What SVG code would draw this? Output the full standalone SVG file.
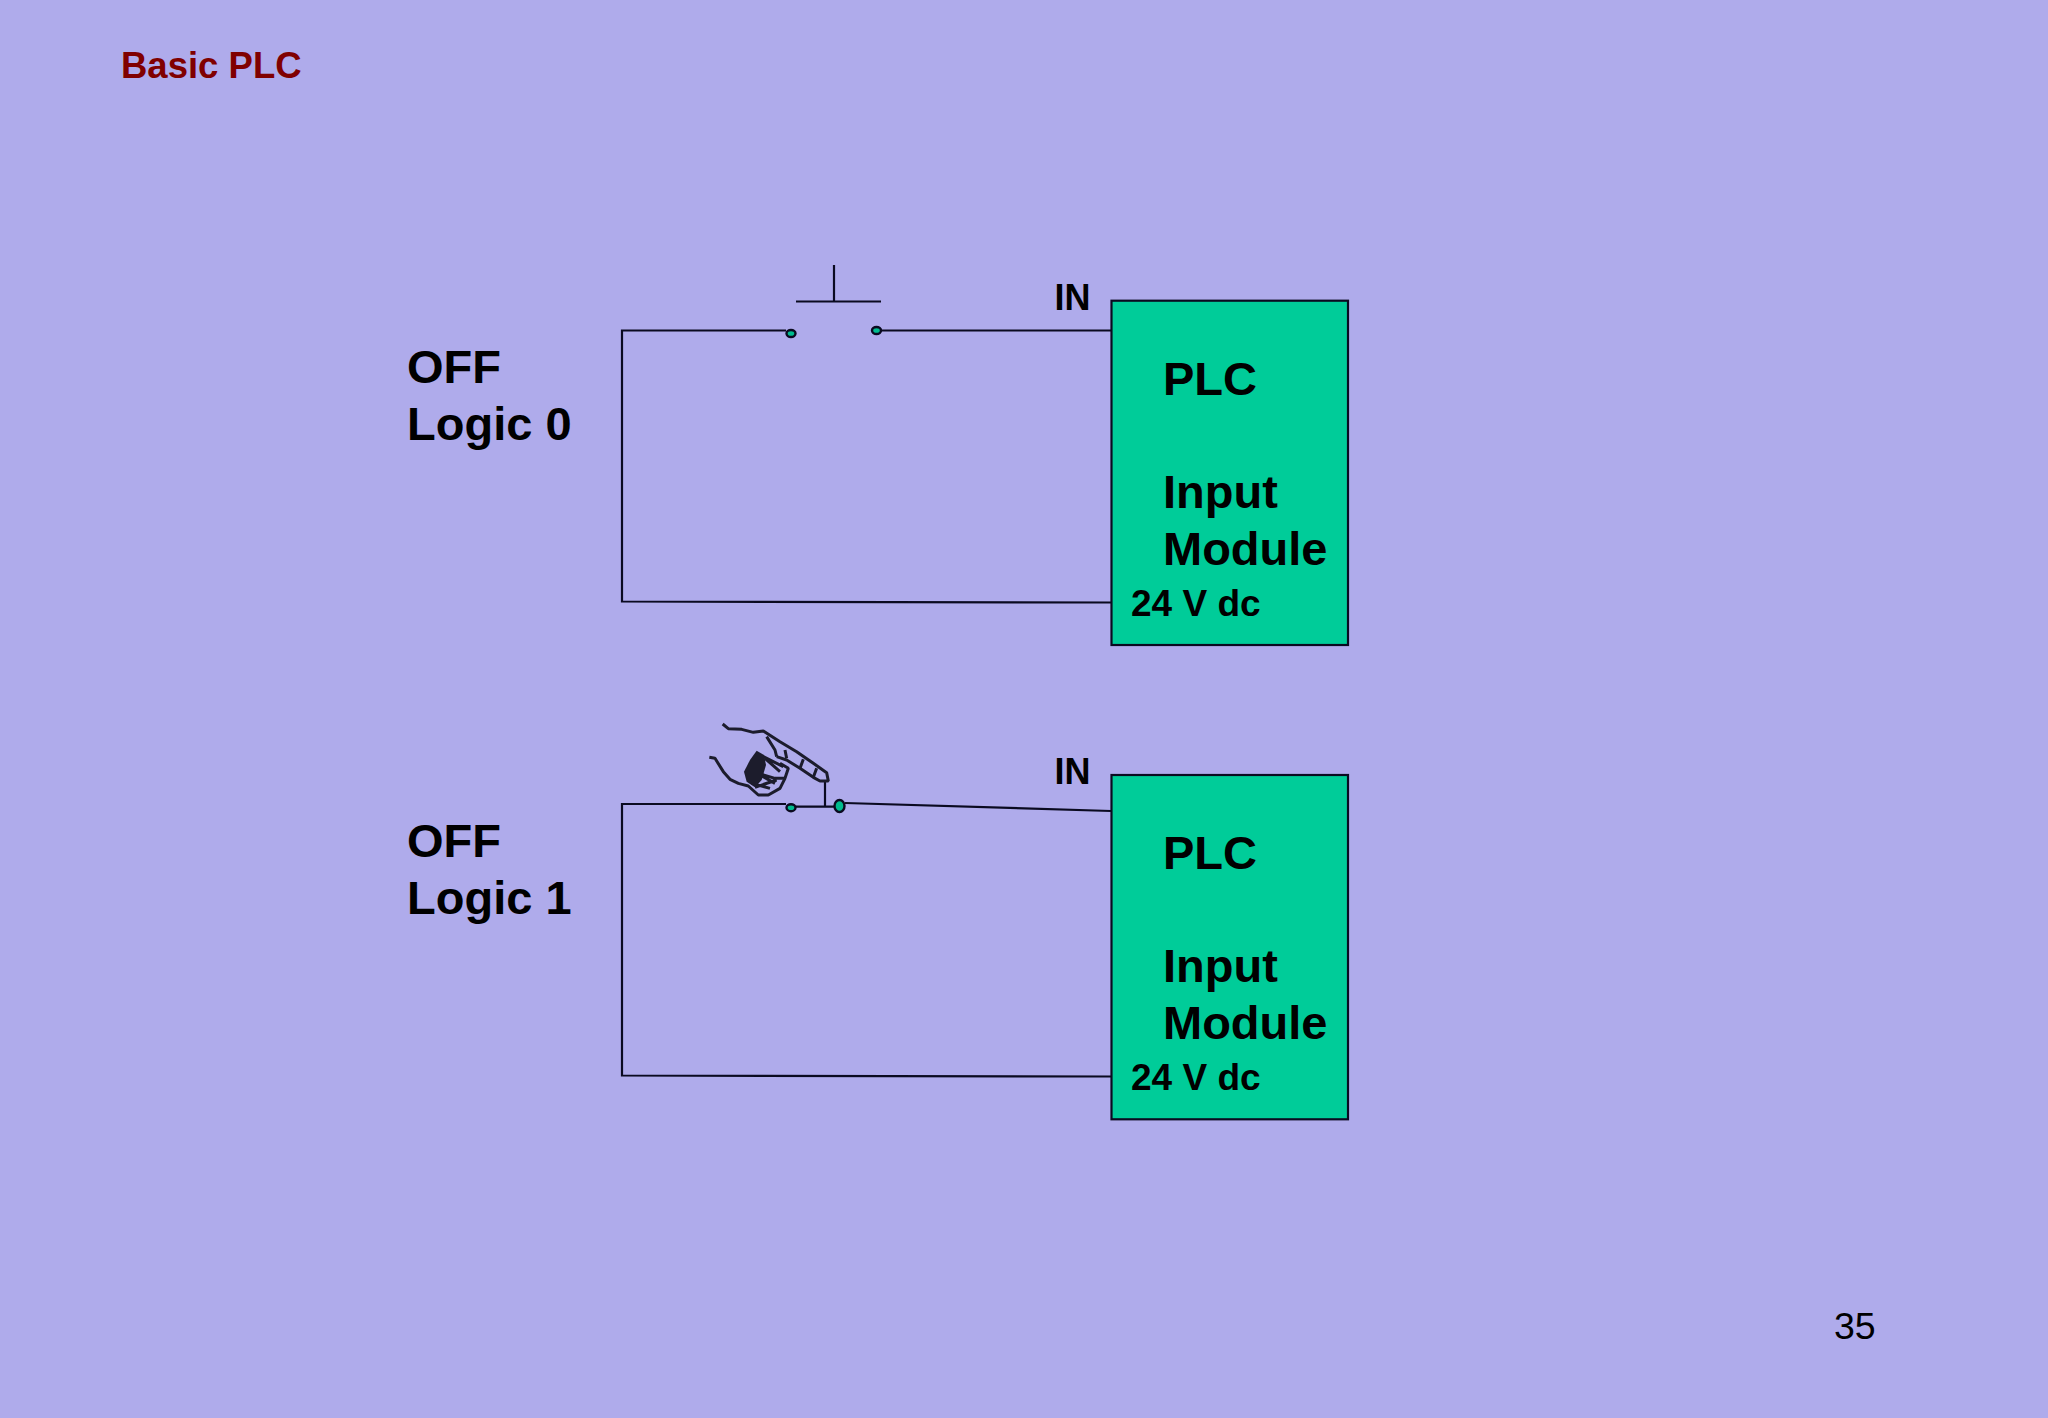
<svg xmlns="http://www.w3.org/2000/svg" width="2048" height="1418" viewBox="0 0 2048 1418">
<style>
text{font-family:"Liberation Sans",Arial,sans-serif;font-weight:700;fill:#000}
.l{font-size:47px}.s{font-size:36px}.v{font-size:37px}
.w{fill:none;stroke:#0a0a20;stroke-width:2.2}
.b{fill:#00cc99;stroke:#0a0a20;stroke-width:2.2}
.d{fill:#00bb8e;stroke:#0a0a20;stroke-width:2.4}
.h{fill:none;stroke:#1c1c2c;stroke-width:9;stroke-linejoin:bevel}
</style>
<rect width="2048" height="1418" fill="#afabeb"/>
<text id="title" x="121" y="78" font-size="36.500" style="fill:#800000">Basic PLC</text>
<text id="page" x="1834" y="1339" font-size="37.500" style="font-weight:400">35</text>
<g id="connectors">
<path class="w" d="M786 330.500H622V601.500L1111 602.500"/>
<path class="w" d="M881 330.500H1111"/>
<path class="w" d="M796 301.500H881M834 265V301.500"/>
<path class="w" d="M786 804H622V1075.500L1111 1076.500"/>
<path class="w" d="M796 806.700H834M825 781V806.700"/>
<path class="w" d="M845 803L1111 811"/>
</g>
<g id="label-off-0"><text class="l" x="407" y="382.500">OFF</text><text class="l" x="407" y="440">Logic 0</text></g>
<g id="label-off-1"><text class="l" x="407" y="856.500">OFF</text><text class="l" x="407" y="914">Logic 1</text></g>
<g id="contact-1a"><ellipse class="d" cx="791" cy="333.500" rx="4.500" ry="3.500"/></g>
<g id="contact-1b"><ellipse class="d" cx="876.500" cy="330.500" rx="4.500" ry="3.500"/></g>
<g id="contact-2a"><ellipse class="d" cx="791" cy="807.700" rx="4.500" ry="3.500"/></g>
<g id="contact-2b"><ellipse class="d" cx="839.500" cy="806" rx="5" ry="6"/></g>
<g id="in-1"><text class="s" x="1054.500" y="309.500">IN</text></g>
<g id="in-2"><text class="s" x="1054.500" y="783.500">IN</text></g>
<g id="plc-1">
<rect class="b" x="1111.500" y="300.700" width="236.500" height="344.300"/>
<text class="l" x="1163" y="394.500">PLC</text><text class="l" x="1163" y="508">Input</text><text class="l" x="1163" y="565">Module</text><text class="v" x="1131" y="616">24 V dc</text>
</g>
<g id="plc-2">
<rect class="b" x="1111.500" y="775" width="236.500" height="344.300"/>
<text class="l" x="1163" y="868.500">PLC</text><text class="l" x="1163" y="982">Input</text><text class="l" x="1163" y="1039">Module</text><text class="v" x="1131" y="1090">24 V dc</text>
</g>
<g id="hand" transform="translate(680 700) scale(.3333)">
<path class="h" d="M128 72L145 86L185 88L220 97L250 93L300 125L350 155L400 190L440 218L445 243L420 243L400 232L360 205L320 180L290 170"/>
<path class="h" d="M260 110L285 150L290 170M315 150L320 175M370 178L360 205M410 205L400 232"/>
<path class="h" d="M88 172L105 175L130 215L150 238L175 250L205 258L235 285L265 285L300 265L315 235"/>
<path class="h" d="M300 190L325 205L315 235L285 235L250 225L215 205M255 175L300 215M215 250L270 265M240 225L285 250M250 170L310 200M225 262L290 240"/>
<path d="M230 152L252 165L258 195L245 240L225 262L200 245L192 215L210 180Z" fill="#1c1c2c"/>
</g>
</svg>
